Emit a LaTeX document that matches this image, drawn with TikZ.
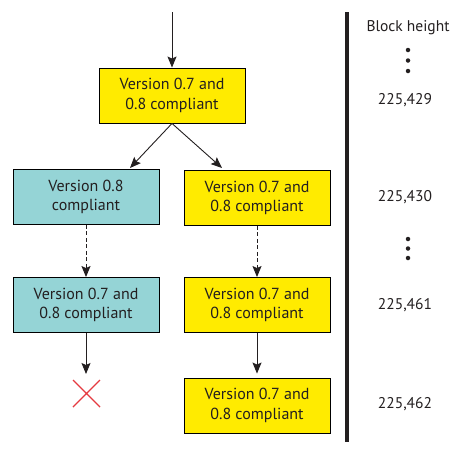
\documentclass[tikz,border=0pt]{standalone}
\usepackage{fontspec}
\setmainfont{PT Sans}
\usetikzlibrary{arrows.meta}
\definecolor{byellow}{HTML}{FFEB00}
\definecolor{bteal}{HTML}{95D4D6}
\definecolor{txt}{HTML}{231F20}
\definecolor{xred}{HTML}{E53A40}
\begin{document}
\begin{tikzpicture}[x=1pt,y=-1pt,
  box/.style={draw=black, line width=0.9pt, rectangle, minimum width=146pt, minimum height=55pt,
    align=center, font=\fontsize{16}{19.5}\selectfont, text=txt, inner sep=0pt},
  ybox/.style={box, fill=byellow},
  tbox/.style={box, fill=bteal},
  arr/.style={-{Stealth[length=11pt,width=9pt,inset=2pt]}, line width=0.9pt, draw=txt},
  darr/.style={arr, dashed, dash pattern=on 4pt off 2.5pt},
  lbl/.style={font=\fontsize{15.5}{18}\selectfont, text=txt, inner sep=0pt},
  dot/.style={circle, fill=txt, inner sep=0pt, minimum size=4.5pt}]
\useasboundingbox (0,0) rectangle (458,453);
\node[ybox] (top) at (172,95.5) {Version 0.7 and\\0.8 compliant};
\node[tbox] (L1) at (86,197) {Version 0.8\\compliant};
\node[ybox] (R1) at (257,198) {Version 0.7 and\\0.8 compliant};
\node[tbox] (L2) at (86,305) {Version 0.7 and\\0.8 compliant};
\node[ybox] (R2) at (257,305) {Version 0.7 and\\0.8 compliant};
\node[ybox] (R3) at (257,405.5) {Version 0.7 and\\0.8 compliant};
\coordinate (start) at (172,12);
\coordinate (la) at (130,168);
\coordinate (ra) at (222,168);
\coordinate (xend) at (86,374);
\draw[arr] (start) -- (top.north);
\draw[arr] (top.south) -- (la);
\draw[arr] (top.south) -- (ra);
\draw[darr] (L1.south) -- (L2.north);
\draw[darr] (R1.south) -- (R2.north);
\draw[arr] (L2.south) -- (xend);
\draw[arr, shorten >=4pt] (R2.south) -- (R3.north);
\coordinate (x1) at (73,380);
\coordinate (x2) at (100,407);
\coordinate (x3) at (73,407);
\coordinate (x4) at (100,380);
\draw[xred, line width=1.4pt] (x1) -- (x2) (x3) -- (x4);
\coordinate (bt) at (347,12);
\coordinate (bb) at (347,442);
\draw[txt, line width=4pt] (bt) -- (bb);
\node[lbl] (bh) at (408,28) {Block height};
\node[dot] (d1) at (408,50) {};
\node[dot] (d2) at (408,60.5) {};
\node[dot] (d3) at (408,71) {};
\node[lbl] (h1) at (405,100) {225,429};
\node[lbl] (h2) at (405,197) {225,430};
\node[dot] (d4) at (408,239) {};
\node[dot] (d5) at (408,248.5) {};
\node[dot] (d6) at (408,258) {};
\node[lbl] (h3) at (405,305) {225,461};
\node[lbl] (h4) at (405,404) {225,462};
\end{tikzpicture}
\end{document}
